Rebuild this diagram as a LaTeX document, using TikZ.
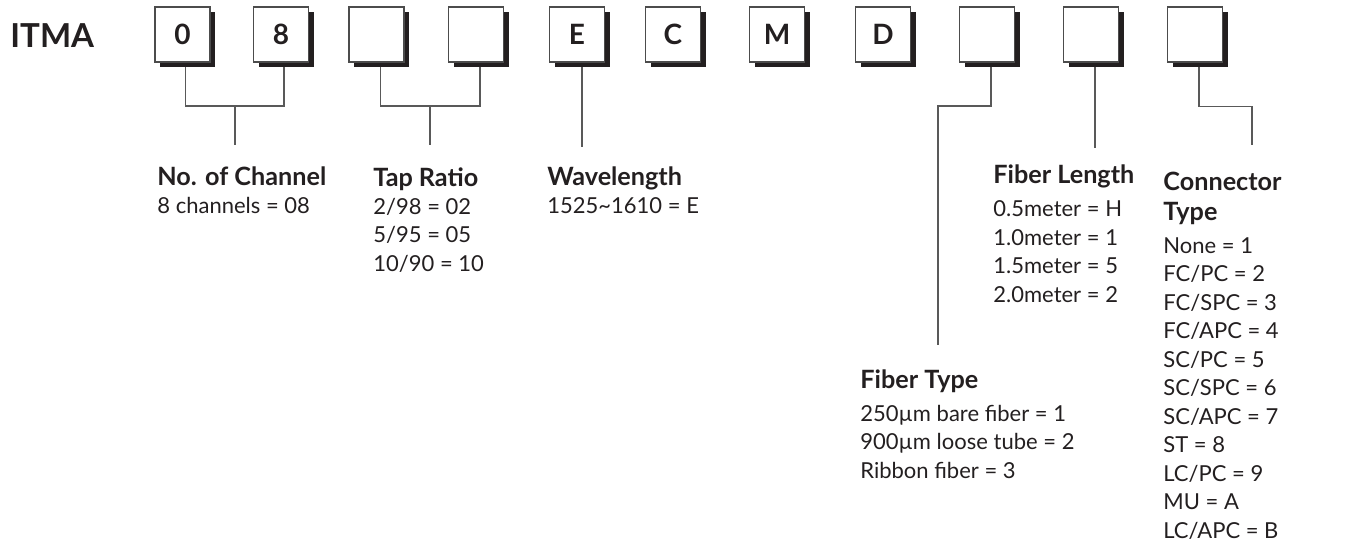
\documentclass[tikz,border=0pt]{standalone}
\usepackage{fontspec}
\setmainfont{Lato}
\usetikzlibrary{
  positioning,
  shadows,
  backgrounds
}
\definecolor{ink}{HTML}{231F20}
\newcommand{\fieldname}[1]{{\fontsize{12.6}{14}\selectfont\bfseries #1}}

\begin{document}
\begin{tikzpicture}[
  x=0.5pt, y=-0.5pt,
  font=\fontsize{11}{14.25}\selectfont,
  text=ink,
  digit/.style={
    draw=black!70,
    fill=white,
    line width=0.6pt,
    minimum size=27.5pt,
    inner sep=0pt,
    font=\fontsize{14}{16}\selectfont\bfseries,
    drop shadow={shadow xshift=2.5pt, shadow yshift=-2.5pt, fill=ink, opacity=1}
  },
  field/.style={anchor=base west, align=left, inner sep=0pt},
  link/.style={draw=black!65, line width=0.7pt}
]
\useasboundingbox (0,0) rectangle (1345,542);

% Code
\node[anchor=base west, inner sep=0pt, font=\fontsize{16.5}{18}\selectfont\bfseries] (itma) at (10,47) {ITMA};

% Boxes
\node[digit] (d1) at (182.5,34.5) {0};
\node[digit] (d2) at (281,34.5) {8};
\node[digit] (d3) at (376.5,34.5) {};
\node[digit] (d4) at (476,34.5) {};
\node[digit] (d5) at (577,34.5) {E};
\node[digit] (d6) at (673,34.5) {C};
\node[digit] (d7) at (777,34.5) {M};
\node[digit] (d8) at (883,34.5) {D};
\node[digit] (d9) at (987,34.5) {};
\node[digit] (d10) at (1091,34.5) {};
\node[digit] (d11) at (1195,34.5) {};

% Fields (anchored at the baseline of their last line)
\node[field] (chan) at (157,213) {\fieldname{No. of Channel}\\[-0.25pt]
  8 channels = 08};
\node[field] (tap) at (373,271) {\fieldname{Tap Ratio}\\[-0.25pt]
  2/98 = 02\\ 5/95 = 05\\ 10/90 = 10};
\node[field] (wave) at (547,213) {\fieldname{Wavelength}\\[-0.25pt]
  1525\textasciitilde1610 = E};
\node[field] (ftype) at (860,478) {\fieldname{Fiber Type}\\[2pt]
  250µm bare fiber = 1\\ 900µm loose tube = 2\\ Ribbon fiber = 3};
\node[field] (flen) at (993,302) {\fieldname{Fiber Length}\\[2.5pt]
  0.5meter = H\\ 1.0meter = 1\\ 1.5meter = 5\\ 2.0meter = 2};
\node[field] (conn) at (1163,538) {\fieldname{Connector}\\[1pt]
  \fieldname{Type}\\[2pt]
  None = 1\\ FC/PC = 2\\ FC/SPC = 3\\ FC/APC = 4\\ SC/PC = 5\\ SC/SPC = 6\\
  SC/APC = 7\\ ST = 8\\ LC/PC = 9\\ MU = A\\ LC/APC = B};

% Connectors
\coordinate (chanj) at (235,106);
\coordinate (tapj) at (430,106);
\coordinate (typej) at (938,106);
\coordinate (typeend) at (938,345);
\coordinate (connend) at (1252,145);

\begin{scope}[on background layer]
\draw[link] ([xshift=1.5pt]d1.south) |- (chanj) -| ([xshift=1.5pt]d2.south);
\draw[link] (chanj) -- ++(0,39);
\draw[link] ([xshift=2pt]d3.south) |- (tapj) -| ([xshift=2pt]d4.south);
\draw[link] (tapj) -- ++(0,39);
\draw[link] ([xshift=2.5pt]d5.south) -- ++(0,84);
\draw[link] ([xshift=2pt]d9.south) |- (typej) -- (typeend);
\draw[link] ([xshift=2pt]d10.south) -- ++(0,85);
\draw[link] ([xshift=2pt]d11.south) -- ++(0,44) -| (connend);
\end{scope}

\end{tikzpicture}
\end{document}
